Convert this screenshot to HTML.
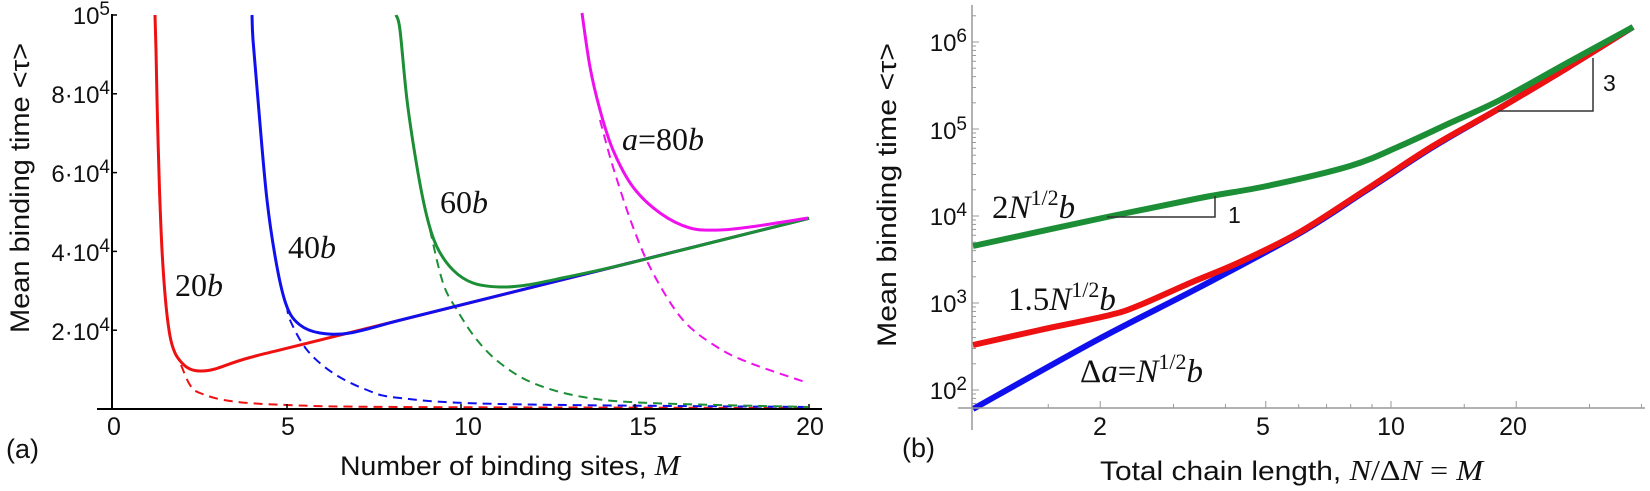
<!DOCTYPE html>
<html><head><meta charset="utf-8"><style>
html,body{margin:0;padding:0;background:#fff;}
svg{display:block;}
text{font-family:"Liberation Sans",sans-serif;fill:#111;}
.t{font-family:"Liberation Serif",serif;}
</style></head><body>
<svg id="s" width="1650" height="491" viewBox="0 0 1650 491" xmlns="http://www.w3.org/2000/svg">
<g id="g"></g>
<!-- Panel a axes -->
<line x1="112" y1="14" x2="112" y2="409" stroke="#000" stroke-width="2"/>
<line x1="97" y1="409" x2="822" y2="409" stroke="#000" stroke-width="2"/>
<g stroke="#000" stroke-width="1.5">
<line x1="112" y1="15" x2="117" y2="15"/><line x1="112" y1="93.8" x2="117" y2="93.8"/>
<line x1="112" y1="172.6" x2="117" y2="172.6"/><line x1="112" y1="251.4" x2="117" y2="251.4"/>
<line x1="112" y1="330.2" x2="117" y2="330.2"/>
<line x1="287" y1="409" x2="287" y2="404"/><line x1="461" y1="409" x2="461" y2="404"/>
<line x1="635" y1="409" x2="635" y2="404"/><line x1="809" y1="409" x2="809" y2="404"/>
</g>
<g font-size="24" text-anchor="end">
<text x="110" y="24">10<tspan dy="-9" font-size="19">5</tspan></text>
<text x="110" y="103">8·10<tspan dy="-9" font-size="19">4</tspan></text>
<text x="110" y="182">6·10<tspan dy="-9" font-size="19">4</tspan></text>
<text x="110" y="261">4·10<tspan dy="-9" font-size="19">4</tspan></text>
<text x="110" y="340">2·10<tspan dy="-9" font-size="19">4</tspan></text>
</g>
<g font-size="25" text-anchor="middle">
<text x="114" y="435">0</text><text x="288" y="435">5</text><text x="468" y="435">10</text>
<text x="643" y="435">15</text><text x="810" y="435">20</text>
</g>
<text x="6" y="458" font-size="27">(a)</text>
<text x="340" y="475" font-size="27" textLength="340" lengthAdjust="spacingAndGlyphs">Number of binding sites, <tspan class="t" font-style="italic" font-size="29">M</tspan></text>
<text transform="translate(29,188) rotate(-90)" font-size="27" text-anchor="middle" textLength="290" lengthAdjust="spacingAndGlyphs">Mean binding time &lt;τ&gt;</text>
<g class="t" font-size="32">
<text class="t" x="175" y="296">20<tspan font-style="italic">b</tspan></text>
<text class="t" x="288" y="258">40<tspan font-style="italic">b</tspan></text>
<text class="t" x="440" y="213">60<tspan font-style="italic">b</tspan></text>
<text class="t" x="622" y="150"><tspan font-style="italic">a</tspan>=80<tspan font-style="italic">b</tspan></text>
</g>

<!-- Panel b axes -->
<line x1="972" y1="5" x2="972" y2="430" stroke="#999" stroke-width="1.5"/>
<line x1="958" y1="408" x2="1645" y2="408" stroke="#999" stroke-width="1.5"/>
<g id="bt" stroke="#999" stroke-width="1"></g>
<g font-size="24" text-anchor="end">
<text x="967" y="51">10<tspan dy="-9" font-size="19">6</tspan></text>
<text x="967" y="139">10<tspan dy="-9" font-size="19">5</tspan></text>
<text x="967" y="225">10<tspan dy="-9" font-size="19">4</tspan></text>
<text x="967" y="312">10<tspan dy="-9" font-size="19">3</tspan></text>
<text x="967" y="399">10<tspan dy="-9" font-size="19">2</tspan></text>
</g>
<g font-size="25" text-anchor="middle">
<text x="1100" y="435">2</text><text x="1263" y="435">5</text><text x="1391" y="435">10</text><text x="1513" y="435">20</text>
</g>
<text x="902" y="457" font-size="27">(b)</text>
<text x="1100" y="480" font-size="27" textLength="383" lengthAdjust="spacingAndGlyphs">Total chain length,  <tspan class="t" font-style="italic" font-size="29">N</tspan><tspan class="t" font-size="29">/Δ</tspan><tspan class="t" font-style="italic" font-size="29">N</tspan><tspan class="t" font-size="29"> = </tspan><tspan class="t" font-style="italic" font-size="29">M</tspan></text>
<text transform="translate(896,195) rotate(-90)" font-size="27" text-anchor="middle" textLength="304" lengthAdjust="spacingAndGlyphs">Mean binding time &lt;τ&gt;</text>
<g stroke="#333" stroke-width="1.5" fill="none">
<polyline points="1107,217 1215,217 1215,196"/>
<polyline points="1498,111 1593,111 1593,58"/>
</g>
<text x="1228" y="223" font-size="23">1</text>
<text x="1603" y="91" font-size="23">3</text>
<g font-size="33">
<text class="t" x="992" y="218">2<tspan font-style="italic">N</tspan><tspan dy="-13" font-size="22">1/2</tspan><tspan dy="13" font-style="italic">b</tspan></text>
<text class="t" x="1008" y="310">1.5<tspan font-style="italic">N</tspan><tspan dy="-13" font-size="22">1/2</tspan><tspan dy="13" font-style="italic">b</tspan></text>
<text class="t" x="1080" y="382">Δ<tspan font-style="italic">a</tspan>=<tspan font-style="italic">N</tspan><tspan dy="-13" font-size="22">1/2</tspan><tspan dy="13" font-style="italic">b</tspan></text>
</g>
</svg>
<script>
function cr(p){var d="M"+p[0][0]+","+p[0][1];for(var i=0;i<p.length-1;i++){var p0=p[i-1]||p[i],p1=p[i],p2=p[i+1],p3=p[i+2]||p2;
d+=" C"+(p1[0]+(p2[0]-p0[0])/6).toFixed(1)+","+(p1[1]+(p2[1]-p0[1])/6).toFixed(1)+" "+(p2[0]-(p3[0]-p1[0])/6).toFixed(1)+","+(p2[1]-(p3[1]-p1[1])/6).toFixed(1)+" "+p2[0]+","+p2[1];}return d;}
var g=document.getElementById("g"),NS="http://www.w3.org/2000/svg";
function P(pts,c,w,dash){var e=document.createElementNS(NS,"path");e.setAttribute("d",cr(pts));e.setAttribute("fill","none");e.setAttribute("stroke",c);e.setAttribute("stroke-width",w);if(dash)e.setAttribute("stroke-dasharray",dash);e.setAttribute("stroke-linejoin","round");g.appendChild(e);}
var R="#ee1111",B="#1010ee",G="#1c8f36",M="#ee11ee";
function L(x){var m=(x-113)/34.8;return +(409-3.94*(4.4+2.2*m)).toFixed(1);}
P([[181,365],[190,385],[200,393],[230,401],[287,405],[400,407],[808,408]],R,2,"9,6");
P([[287,305],[290,320],[307,350],[333,373],[367,390],[400,398],[500,404],[808,407]],B,2,"9,6");
P([[430,230],[443,283],[457,310],[477,340],[500,363],[533,383],[583,397],[650,403],[808,407]],G,2,"9,6");
P([[600,120],[613,167],[633,227],[653,273],[683,320],[717,347],[750,363],[808,383]],M,2,"9,6");
P([[155,15],[156,50],[157.5,120],[159.5,190],[162,250],[165.5,300],[170,336],[175,353],[182,363],[190,369],[200,371],[215,369],[250,L(250)],[330,L(330)],[809,L(809)]],R,3);
P([[252,15],[253,40],[258,100],[267,200],[277,267],[287,307],[300,325],[320,333],[350,333],[400,L(400)],[460,L(460)],[809,L(809)]],B,3);
P([[396,15],[400,30],[407,100],[417,167],[427,217],[437,247],[453,270],[473,283],[500,287],[527,285],[567,277],[617,L(617)],[700,L(700)],[809,L(809)]],G,3);
P([[582,13],[590,67],[600,110],[613,150],[633,187],[660,213],[690,228],[720,230],[750,227],[783,222],[808,218]],M,3);
P([[973,409],[1097,340],[1200,287],[1300,233],[1367,190],[1433,147],[1500,108],[1567,68],[1633,27]],B,6);
P([[973,345],[1040,330],[1110,315],[1140,305],[1190,283],[1240,262],[1300,232],[1367,189],[1433,146],[1500,108],[1567,68],[1633,27]],R,6);
P([[973,246],[1107,217],[1200,198],[1267,186],[1350,166],[1400,146],[1450,123],[1500,100],[1567,63],[1633,27]],G,6);
var bt=document.getElementById("bt"),s="";
[1.5,3,4,6,7,8,9,15,30,40].forEach(function(m){var x=1391+416*Math.log10(m/10);s+='<line x1="'+x+'" y1="408" x2="'+x+'" y2="404"/>';});
[2,5,10,20].forEach(function(m){var x=1391+416*Math.log10(m/10);s+='<line x1="'+x+'" y1="408" x2="'+x+'" y2="401"/>';});
for(var d=1;d<=6;d++)for(var k=1;k<=9;k++){var y=390-87*(d-2+Math.log10(k));if(y<5||y>408)continue;s+='<line x1="972" y1="'+y+'" x2="'+(k==1?979:976)+'" y2="'+y+'"/>';}
bt.innerHTML=s;
</script>
</body></html>
